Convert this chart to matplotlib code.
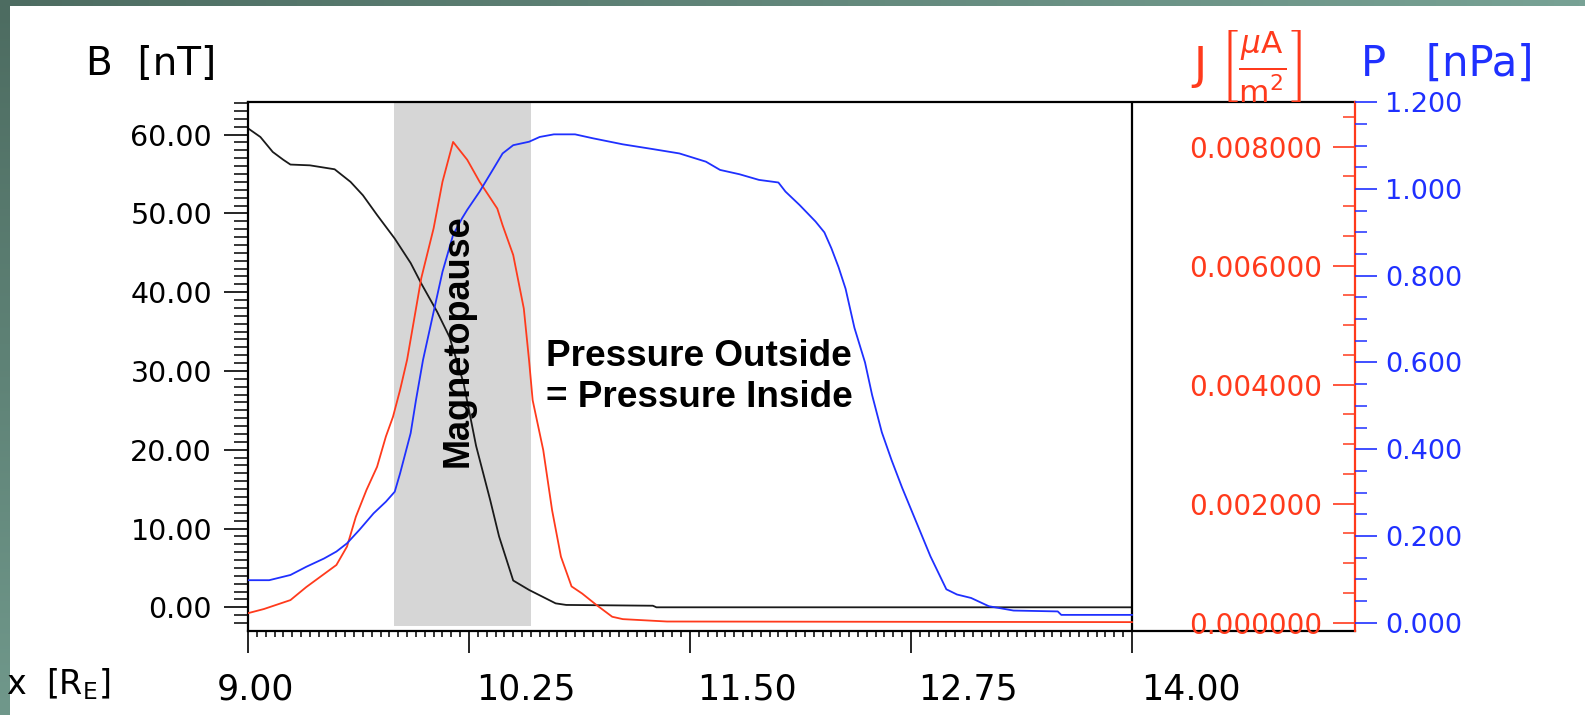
import numpy as np
import matplotlib
matplotlib.use("Agg")
import matplotlib.pyplot as plt
from matplotlib.transforms import blended_transform_factory, ScaledTranslation

plt.rcParams['font.family'] = ['DejaVu Sans']
plt.rcParams['mathtext.fontset'] = 'dejavusans'

# ---------------------------------------------------------------- data
# Magnetic field strength B [nT] along x [R_E]
b_x = [9.00, 9.07, 9.14, 9.20, 9.24, 9.35, 9.49, 9.58, 9.65, 9.73, 9.83, 9.92,
       9.98, 10.07, 10.14, 10.22, 10.29, 10.37, 10.42, 10.50, 10.59, 10.74,
       10.80, 11.29, 11.31, 14.00]
b_val = [60.8, 59.7, 57.8, 56.8, 56.2, 56.1, 55.6, 54.0, 52.3, 49.8, 46.8, 43.7,
         41.1, 37.5, 34.3, 28.4, 20.5, 13.6, 9.0, 3.4, 2.2, 0.5,
         0.3, 0.2, 0.0, 0.0]

# Current density J [uA/m^2]
j_x = [9.00, 9.09, 9.24, 9.33, 9.50, 9.56, 9.61, 9.67, 9.73, 9.78, 9.82, 9.86,
       9.90, 9.98, 10.05, 10.10, 10.16, 10.24, 10.31, 10.41, 10.44, 10.50,
       10.56, 10.59, 10.61, 10.67, 10.72, 10.77, 10.83, 10.89, 10.97, 11.06,
       11.12, 11.37, 14.00]
j_val = [0.00016, 0.00023, 0.00038, 0.00060, 0.00097, 0.00128, 0.00178, 0.00223,
         0.00262, 0.00313, 0.00346, 0.00391, 0.00442, 0.00579, 0.00663, 0.00741,
         0.00808, 0.00778, 0.00741, 0.00696, 0.00668, 0.00618, 0.00528, 0.00440,
         0.00374, 0.00290, 0.00189, 0.00111, 0.00061, 0.00049, 0.00030, 0.00010,
         0.00006, 0.00002, 0.00001]

# Pressure P [nPa]
p_x = [9.00, 9.12, 9.24, 9.33, 9.43, 9.50, 9.56, 9.63, 9.71, 9.78, 9.83, 9.86,
       9.92, 9.95, 9.99, 10.05, 10.10, 10.16, 10.21, 10.24, 10.31, 10.39, 10.44,
       10.50, 10.59, 10.65, 10.73, 10.85, 10.95, 11.12, 11.29, 11.44, 11.59,
       11.67, 11.78, 11.89, 12.00, 12.04, 12.12, 12.21, 12.26, 12.30, 12.34,
       12.38, 12.43, 12.49, 12.53, 12.585, 12.64, 12.70, 12.78, 12.86, 12.95,
       13.01, 13.09, 13.19, 13.33, 13.58, 13.60, 14.00]
p_val = [0.098, 0.098, 0.110, 0.129, 0.148, 0.164, 0.183, 0.214, 0.252, 0.279,
         0.302, 0.344, 0.437, 0.513, 0.606, 0.717, 0.809, 0.894, 0.932, 0.952,
         0.994, 1.048, 1.082, 1.101, 1.109, 1.120, 1.126, 1.126, 1.117, 1.103,
         1.092, 1.082, 1.063, 1.044, 1.034, 1.021, 1.015, 0.994, 0.963, 0.925,
         0.900, 0.863, 0.820, 0.770, 0.680, 0.600, 0.525, 0.439, 0.375, 0.311,
         0.232, 0.153, 0.077, 0.065, 0.057, 0.038, 0.028, 0.026, 0.018, 0.018]

# Axis ticks and labels
x_ticks = [9.00, 10.25, 11.50, 12.75, 14.00]
x_tick_labels = ["9.00", "10.25", "11.50", "12.75", "14.00"]
b_ticks = [0, 10, 20, 30, 40, 50, 60]
b_tick_labels = ["0.00", "10.00", "20.00", "30.00", "40.00", "50.00", "60.00"]
j_ticks = [0.000, 0.002, 0.004, 0.006, 0.008]
j_tick_labels = ["0.000000", "0.002000", "0.004000", "0.006000", "0.008000"]
p_ticks = [0.0, 0.2, 0.4, 0.6, 0.8, 1.0, 1.2]
p_tick_labels = ["0.000", "0.200", "0.400", "0.600", "0.800", "1.000", "1.200"]

# Magnetopause layer
mp_start, mp_end = 9.825, 10.602

# ---------------------------------------------------------------- style
RED = "#ff3a1c"
BLUE = "#1f30ff"
W, H = 1585, 715

fig = plt.figure(figsize=(W / 100, H / 100), dpi=100)
fig.patch.set_facecolor("white")

# slide frame strips (top and left)
top_strip = fig.add_axes([0, 1 - 6 / H, 1, 6 / H])
grad = np.linspace(0, 1, 256)
c0 = np.array([0x4d, 0x6c, 0x61]) / 255
c1 = np.array([0x78, 0xa2, 0x95]) / 255
top_strip.imshow((c0 + (c1 - c0) * grad[:, None])[None, :, :], aspect="auto")
top_strip.axis("off")
left_strip = fig.add_axes([0, 0, 10 / W, 1 - 6 / H])
c2 = np.array([0x70, 0x98, 0x8b]) / 255
left_strip.imshow((c0 + (c2 - c0) * grad[:, None])[:, None, :], aspect="auto")
left_strip.axis("off")

# main axes box (pixels)
px_l, px_r, px_t, px_b = 248, 1355, 102, 630.5
ax = fig.add_axes([px_l / W, 1 - px_b / H, (px_r - px_l) / W, (px_b - px_t) / H])
x_per_px = 1.25 / 221.0
ax.set_xlim(9.0, 9.0 + (px_r - px_l) * x_per_px)
ax.set_ylim(-2.945, 64.14)

ax.axvspan(mp_start, mp_end, ymin=0.008, ymax=1, color="#d6d6d6", lw=0, zorder=0)
ax.plot(b_x, b_val, color="#1a1a1a", lw=1.3, zorder=2)
ax.axvline(14.0, color="black", lw=1.6, zorder=3)

for side in ("top", "left", "bottom"):
    ax.spines[side].set_linewidth(1.6)
    ax.spines[side].set_color("black")
ax.spines["right"].set_visible(False)

ax.set_xticks(x_ticks)
ax.set_xticklabels([])
ax.set_xticks(np.arange(9.0, 14.0001, 0.05), minor=True)
ax.tick_params(axis="x", which="major", direction="out", length=16, width=1.2, color="black")
ax.tick_params(axis="x", which="minor", direction="out", length=4.3, width=1.1, color="black")

ax.set_yticks(b_ticks)
ax.set_yticklabels(b_tick_labels)
ax.set_yticks(np.arange(-2, 65, 1), minor=True)
ax.tick_params(axis="y", which="major", direction="out", length=17.3, width=1.2,
               pad=8.6, labelsize=20.5, colors="black")
ax.tick_params(axis="y", which="minor", direction="out", length=10, width=1.1, color="black")

# x tick labels sit just to the right of their ticks
xlab_tr = blended_transform_factory(ax.transData, ax.transAxes)
x_offsets = [-31, 7, 7, 7, 9]
for v, s, dx in zip(x_ticks, x_tick_labels, x_offsets):
    ax.text(v, -0.1116, s, fontsize=25, ha="left", va="center",
            transform=xlab_tr + ScaledTranslation(dx / 100, 0, fig.dpi_scale_trans))

# current density axis (red, ticks pointing inward, labels inside)
ax_j = ax.twinx()
ax_j.set_ylim(-0.000131, 0.008751)
ax_j.plot(j_x, j_val, color=RED, lw=1.3, zorder=2)
ax_j.set_yticks(j_ticks)
ax_j.set_yticklabels(j_tick_labels)
ax_j.set_yticks(np.arange(0, 0.00876, 0.0005), minor=True)
ax_j.tick_params(axis="y", which="both", direction="in", left=False, right=True,
                 labelleft=False, labelright=True, colors=RED)
ax_j.tick_params(axis="y", which="major", length=15.8, width=1.2, pad=-23.8, labelsize=20)
ax_j.tick_params(axis="y", which="minor", length=8.6, width=1.1)
for lbl in ax_j.get_yticklabels():
    lbl.set_horizontalalignment("right")
for side in ("top", "left", "bottom"):
    ax_j.spines[side].set_visible(False)
ax_j.spines["right"].set_color(RED)
ax_j.spines["right"].set_linewidth(1.6)

# pressure axis (blue, ticks outward)
ax_p = ax.twinx()
ax_p.set_ylim(-0.018, 1.2006)
ax_p.plot(p_x, p_val, color=BLUE, lw=1.3, zorder=2)
ax_p.set_yticks(p_ticks)
ax_p.set_yticklabels(p_tick_labels)
ax_p.set_yticks(np.arange(0, 1.201, 0.05), minor=True)
ax_p.tick_params(axis="y", which="both", direction="out", left=False, right=True,
                 labelleft=False, labelright=True, colors=BLUE)
ax_p.tick_params(axis="y", which="major", length=15.8, width=1.2, pad=5.8, labelsize=19.5)
ax_p.tick_params(axis="y", which="minor", length=8.6, width=1.1)
for side in ("top", "left", "bottom", "right"):
    ax_p.spines[side].set_visible(False)

# annotations (placed in B / x coordinates, drawn above all curves)
ax_p.text(10.186, 33.9, "Magnetopause", transform=ax.transData, rotation=90,
          ha="center", va="center", fontsize=26, fontweight="bold",
          family="Liberation Sans", zorder=5)
ax_p.text(10.684, 30.63, "Pressure Outside", transform=ax.transData,
          ha="left", va="baseline", fontsize=26.6, fontweight="bold",
          family="Liberation Sans", zorder=5)
ax_p.text(10.684, 25.43, "= Pressure Inside", transform=ax.transData,
          ha="left", va="baseline", fontsize=26.6, fontweight="bold",
          family="Liberation Sans", zorder=5)

# axis titles
fig.text(151 / W, 1 - 64 / H, "B  [nT]", fontsize=28, ha="center", va="center")
fig.text(1247 / W, 1 - 66 / H, r"J $\left[\frac{\mu\mathrm{A}}{\mathrm{m}^{2}}\right]$",
         fontsize=32, ha="center", va="center", color=RED)
fig.text(1447 / W, 1 - 64 / H, "P   [nPa]", fontsize=30, ha="center", va="center", color=BLUE)
fig.text(58 / W, 1 - 684 / H, r"x  [R$_{\mathrm{E}}$]", fontsize=24, ha="center", va="center")

fig.savefig("out.png", dpi=100)
